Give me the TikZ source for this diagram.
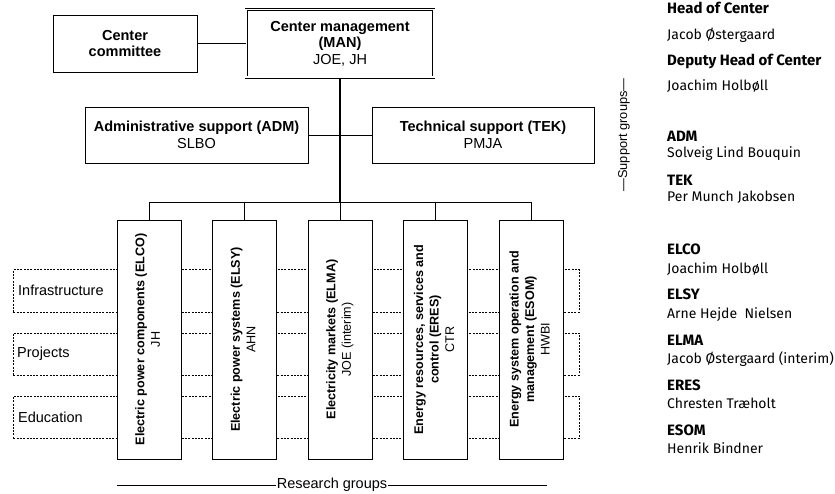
\documentclass[tikz,border=0pt]{standalone}
\usepackage{fontspec}
\usepackage{graphicx}
\setmainfont{Liberation Sans}
\newfontfamily\rfont{Fira Sans}
\newcommand\rgtext[1]{\rotatebox{90}{\begin{tabular}{@{}c@{}}#1\end{tabular}}}
\begin{document}
\begin{tikzpicture}[x=1pt,y=-1pt,
  box/.style={draw, line width=0.8pt, fill=white, align=center, inner sep=0pt,
    font=\fontsize{14.5}{16.5}\selectfont},
  rgbox/.style={draw, line width=0.8pt, fill=white, inner sep=0pt,
    minimum width=64pt, minimum height=239pt,
    font=\fontsize{12.6}{15.5}\selectfont},
  rowbox/.style={draw, line width=0.7pt, dash pattern=on 2pt off 1.3pt,
    minimum width=566pt, minimum height=42pt, anchor=north west, inner sep=0pt},
  rowlabel/.style={anchor=west, inner sep=0pt, font=\fontsize{14.5}{16.5}\selectfont},
  link/.style={line width=0.8pt},
  trunk/.style={line width=1.6pt},
  info/.style={anchor=base west, inner sep=0pt, font=\rfont\fontsize{14}{16}\selectfont},
  infohead/.style={anchor=base west, inner sep=0pt, font=\rfont\bfseries\fontsize{15}{17}\selectfont}
]
\useasboundingbox (0,0) rectangle (835,494);

% dashed rows
\node[rowbox] (infra) at (13,269.5) {};
\node[rowbox] (proj) at (13,332.5) {};
\node[rowbox] (edu) at (13,396) {};
\node[rowlabel] (infral) at (18,290.5) {Infrastructure};
\node[rowlabel] (projl) at (17,353.5) {Projects};
\node[rowlabel] (edul) at (18,417) {Education};

% top boxes
\node[box, minimum width=144pt, minimum height=57pt] (com) at (125,43.5)
  {\bfseries Center\\\bfseries committee};
\node[box, line width=0.7pt, double, double distance=1.6pt,
  minimum width=187.6pt, minimum height=67.6pt] (man) at (340,43.5)
  {\bfseries Center management\\\bfseries(MAN)\\JOE, JH};
\node[box, minimum width=223pt, minimum height=56pt] (adm) at (196.5,135)
  {\bfseries Administrative support (ADM)\\SLBO};
\node[box, minimum width=222pt, minimum height=56pt] (tek) at (483,135)
  {\bfseries Technical support (TEK)\\PMJA};

% research group boxes
\node[rgbox] (elco) at (149,339.5)
  {\rgtext{\bfseries Electric power components (ELCO)\\JH}};
\node[rgbox] (elsy) at (244.5,339.5)
  {\rgtext{\bfseries Electric power systems (ELSY)\\AHN}};
\node[rgbox] (elma) at (340,339.5)
  {\rgtext{\bfseries Electricity markets (ELMA)\\JOE (interim)}};
\node[rgbox] (eres) at (435.5,339.5)
  {\rgtext{\bfseries Energy resources, services and\\\bfseries control (ERES)\\CTR}};
\node[rgbox] (esom) at (531,339.5)
  {\rgtext{\bfseries Energy system operation and\\\bfseries management (ESOM)\\HWBI}};

% connectors
\coordinate (bus) at (340,202);
\draw[link] (com.east) -- (man.west);
\draw[link] (adm.east) -- (tek.west);
\draw[trunk] (man.south) -- (bus);
\draw[link] (elco.north |- bus) -- (esom.north |- bus);
\foreach \g in {elco,elsy,elma,eres,esom}
  \draw[link] (\g.north |- bus) -- (\g.north);

% research groups label
\coordinate (rgL) at (117,485);
\coordinate (rgR) at (547,485);
\node[inner sep=0.6pt, font=\fontsize{14.5}{16.5}\selectfont] (rg) at (332,485) {Research groups};
\draw[link] (rgL) -- (rg.west);
\draw[link] (rg.east) -- (rgR);

% support groups label
\node[rotate=90, inner sep=0pt, font=\fontsize{12.8}{14}\selectfont] (supg) at (624,135)
  {—Support groups—};

% right column
\node[infohead] (h1) at (667,14) {Head of Center};
\node[info] (h1n) at (667,40) {Jacob Østergaard};
\node[infohead] (h2) at (667,66) {Deputy Head of Center};
\node[info] (h2n) at (667,91) {Joachim Holbøll};
\node[infohead] (s1) at (667,142) {ADM};
\node[info] (s1n) at (667,158) {Solveig Lind Bouquin};
\node[infohead] (s2) at (667,186) {TEK};
\node[info] (s2n) at (667,202) {Per Munch Jakobsen};
\node[infohead] (r1) at (667,255) {ELCO};
\node[info] (r1n) at (667,273) {Joachim Holbøll};
\node[infohead] (r2) at (667,300) {ELSY};
\node[info] (r2n) at (667,318) {Arne Hejde~ Nielsen};
\node[infohead] (r3) at (667,345) {ELMA};
\node[info] (r3n) at (667,363) {Jacob Østergaard (interim)};
\node[infohead] (r4) at (667,390) {ERES};
\node[info] (r4n) at (667,408) {Chresten Træholt};
\node[infohead] (r5) at (667,435) {ESOM};
\node[info] (r5n) at (667,453) {Henrik Bindner};
\end{tikzpicture}
\end{document}
